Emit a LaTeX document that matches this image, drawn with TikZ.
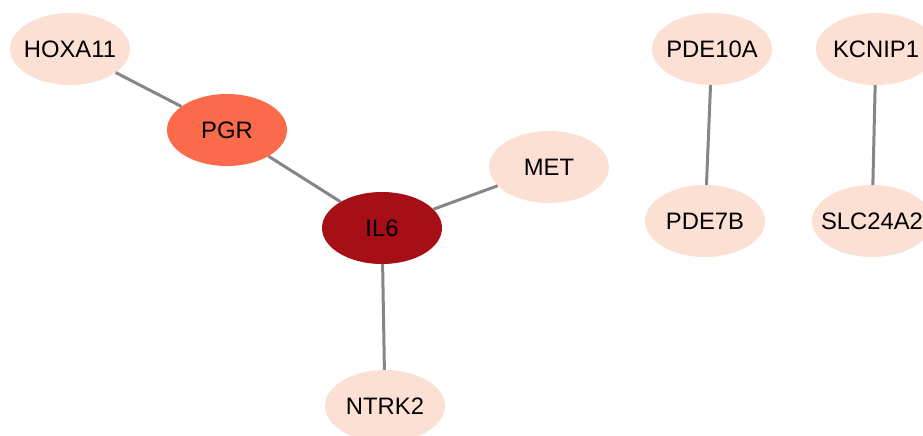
\documentclass[tikz,border=0pt]{standalone}
\usepackage{fontspec}
\setmainfont{Liberation Sans}
\usetikzlibrary{shapes.geometric}
\definecolor{lowc}{HTML}{FDE0D4}
\definecolor{midc}{HTML}{FB6A4A}
\definecolor{highc}{HTML}{A50F15}
\definecolor{edgec}{HTML}{868686}
\newcommand{\genelabel}[1]{\makebox[0pt]{#1}}
\tikzset{
  gene/.style={ellipse, minimum width=120pt, minimum height=72pt, inner sep=0pt, draw=none, font=\fontsize{23.8}{28}\selectfont, text=black},
  low/.style={gene, fill=lowc},
  mid/.style={gene, fill=midc},
  high/.style={gene, fill=highc},
  link/.style={draw=edgec, line width=3pt}
}
\begin{document}
\begin{tikzpicture}[x=1pt,y=-1pt]
\useasboundingbox (0,0) rectangle (923,436);
\clip (0,0) rectangle (923,436);
\node[low]  (hoxa) at (70,49) {\genelabel{HOXA11}};
\node[mid]  (pgr)  at (227,130) {\genelabel{PGR}};
\node[high] (il6)  at (382,228) {\genelabel{IL6}};
\node[low]  (met)  at (549,167) {\genelabel{MET}};
\node[low]  (ntrk) at (385,406) {\genelabel{NTRK2}};
\node[low]  (pde10) at (712,49) {\genelabel{PDE10A}};
\node[low]  (pde7) at (705,221) {\genelabel{PDE7B}};
\node[low]  (kcn)  at (876,49) {\genelabel{KCNIP1}};
\node[low]  (slc)  at (872,221) {\genelabel{SLC24A2}};
\draw[link] (hoxa) -- (pgr);
\draw[link] (pgr) -- (il6);
\draw[link] (il6) -- (met);
\draw[link] (il6) -- (ntrk);
\draw[link] (pde10) -- (pde7);
\draw[link] (kcn) -- (slc);
\end{tikzpicture}
\end{document}
